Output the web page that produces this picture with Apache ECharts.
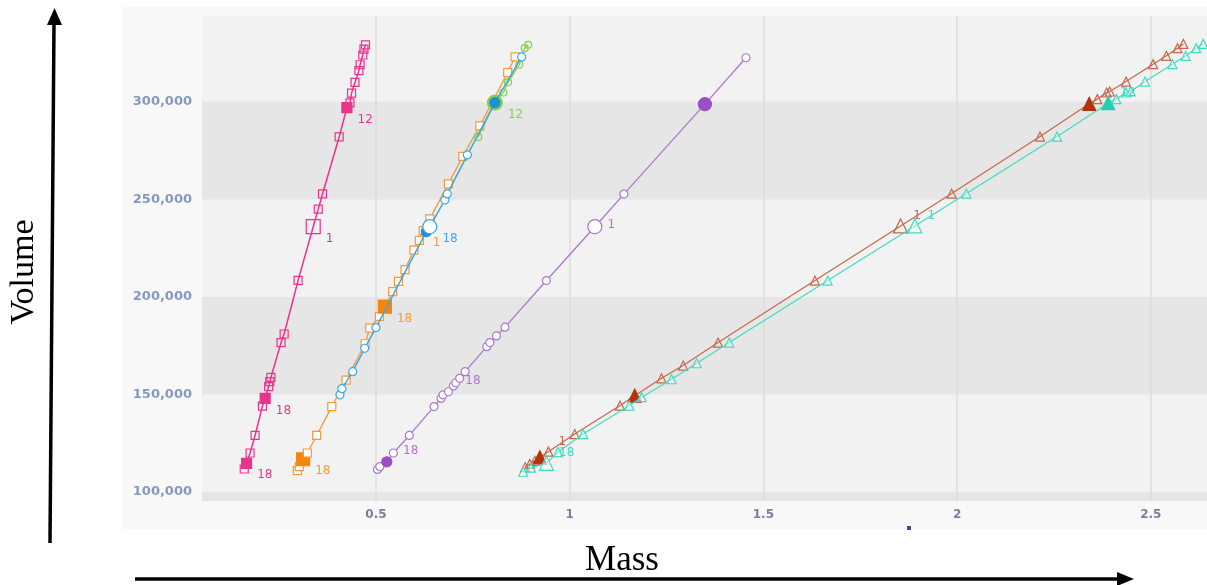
<!DOCTYPE html>
<html>
<head>
<meta charset="utf-8">
<script src="https://cdn.jsdelivr.net/npm/echarts@6/dist/echarts.min.js"></script>
<style>
  html, body { margin: 0; padding: 0; background: #fff; }
  #chart { width: 1207px; height: 585px; }
</style>
</head>
<body>
<div id="chart"></div>
<script>
// tick labels
const xTicks = [0.5, 1, 1.5, 2, 2.5];
const yTicks = [100000, 150000, 200000, 250000, 300000];

// [mass, volume]
const pinkPoints = [[0.160,111800],[0.166,114700],[0.175,120000],[0.188,129000],[0.207,144000],[0.214,148000],[0.223,154000],[0.226,156600],[0.229,158800],[0.255,176600],[0.263,181000],[0.299,208500],[0.338,236000],[0.351,245000],[0.362,252800],[0.405,282000],[0.425,297000],[0.433,299500],[0.437,304500],[0.446,310000],[0.456,316000],[0.459,319000],[0.466,324000],[0.469,327000],[0.473,329200]];
const pinkLabels = [[1,'18'],[5,'18'],[12,'1'],[16,'12']];

const orangePoints = [[0.297,111000],[0.302,113000],[0.312,116800],[0.323,120000],[0.347,129000],[0.386,143800],[0.423,157400],[0.472,176000],[0.484,184000],[0.509,190000],[0.523,195000],[0.543,202700],[0.558,208000],[0.575,214000],[0.598,224000],[0.612,229000],[0.622,234000],[0.639,240000],[0.687,258000],[0.724,272000],[0.768,287700],[0.840,315000],[0.859,323000]];
const orangeLabels = [[2,'18'],[10,'18'],[16,'1']];

const bluePoints = [[0.407,149800],[0.412,153000],[0.440,161700],[0.471,173700],[0.500,184300],[0.630,233500],[0.639,236000],[0.678,249700],[0.684,252800],[0.736,272800],[0.807,299600],[0.876,323000]];
const blueLabels = [[6,'18']];

const greenPoints = [[0.764,282000],[0.807,299600],[0.829,304800],[0.841,310000],[0.870,319000],[0.884,327500],[0.893,329200]];
const greenLabels = [[1,'12']];

const purplePoints = [[0.504,111600],[0.510,113000],[0.528,115500],[0.545,120000],[0.586,129000],[0.650,143800],[0.668,148000],[0.673,149800],[0.687,151400],[0.700,154400],[0.706,156000],[0.716,158300],[0.730,161700],[0.786,174500],[0.794,176600],[0.811,180000],[0.833,184500],[0.940,208400],[1.065,236000],[1.140,252700],[1.349,298800],[1.455,322600]];
const purpleLabels = [[3,'18'],[10,'18'],[18,'1']];

const brownPoints = [[0.885,112700],[0.897,114400],[0.910,116000],[0.923,117800],[0.945,120700],[1.013,129700],[1.130,144300],[1.168,149400],[1.237,158300],[1.293,164800],[1.383,176600],[1.633,208400],[1.854,236400],[1.986,253000],[2.214,282200],[2.341,299000],[2.362,301400],[2.386,304800],[2.394,305300],[2.436,310400],[2.506,319300],[2.540,323600],[2.569,327500],[2.584,329700]];
const brownLabels = [[4,'1'],[12,'1']];

const cyanPoints = [[0.880,110400],[0.900,112500],[0.940,114700],[0.970,120500],[1.035,129700],[1.154,144300],[1.186,148600],[1.263,157800],[1.328,166000],[1.412,176600],[1.666,208400],[1.891,236400],[2.024,253000],[2.258,282200],[2.390,299300],[2.411,301400],[2.436,304800],[2.448,305300],[2.485,310400],[2.556,319300],[2.590,323600],[2.617,327500],[2.635,329700]];
const cyanLabels = [[2,'18'],[11,'1'],[14,'12']];

const xMin = 0.051, xMax = 2.645;
const yMin = 95400, yMax = 344000;

// marker styling per series: which points are drawn big or filled
const seriesDefs = [
  { points: pinkPoints, labels: pinkLabels, color: '#e8348c', symbol: 'rect', size: 8, width: 1.5,
    hollow: 'rgba(0,0,0,0)', marks: { 1: 'fill', 5: 'fill', 12: 'big', 16: 'fill' }, labelDy: 12 },
  { points: orangePoints, labels: orangeLabels, color: '#f39a3c', fill: '#f7850c', symbol: 'rect', size: 8, width: 1.3,
    hollow: '#fff', marks: { 2: 'fillbig', 10: 'fillbig' }, labelDy: 12 },
  { points: greenPoints, labels: greenLabels, color: '#86d04a', symbol: 'circle', size: 7, width: 1.2,
    hollow: 'rgba(0,0,0,0)', marks: { 1: 'ring' }, labelDy: 12 },
  { points: bluePoints, labels: blueLabels, color: '#3ba8e2', fill: '#1f8fd6', symbol: 'circle', size: 8, width: 1.5,
    hollow: '#fff', marks: { 5: 'fill', 6: 'big', 10: 'fill' }, labelDy: 12 },
  { points: purplePoints, labels: purpleLabels, color: '#ac78cc', fill: '#9a4fc4', symbol: 'circle', size: 8, width: 1.3,
    hollow: '#fff', marks: { 2: 'fill', 18: 'big', 20: 'fillbig' }, labelDy: -2 },
  { points: brownPoints, labels: brownLabels, color: '#c4674a', fill: '#b5320c', symbol: 'triangle', size: 9, width: 1.2,
    hollow: 'rgba(0,0,0,0)', marks: { 3: 'fillbig', 7: 'fillbig', 12: 'big', 15: 'fillbig' }, labelDy: -10 },
  { points: cyanPoints, labels: cyanLabels, color: '#3fdcc2', fill: '#22cfae', symbol: 'triangle', size: 9, width: 1.2,
    hollow: 'rgba(255,255,255,0.4)', marks: { 2: 'big', 11: 'big', 14: 'fillbig' }, labelDy: -10 }
];

function makeSeries(d, k) {
  const data = d.points.map((p, i) => {
    const item = { value: p };
    const m = d.marks[i];
    const fc = d.fill || d.color;
    if (m === 'fill') {
      item.symbolSize = d.size + 2;
      item.itemStyle = { color: fc, borderColor: fc };
    } else if (m === 'fillbig') {
      item.symbolSize = 13;
      item.itemStyle = { color: fc, borderColor: fc };
    } else if (m === 'big') {
      item.symbolSize = 14;
    } else if (m === 'ring') {
      item.symbolSize = 13;
      item.itemStyle = { color: 'rgba(134,208,74,0.3)', borderColor: d.color, borderWidth: 3 };
    }
    const lab = d.labels.find(l => l[0] === i);
    if (lab) item.label = { show: true, formatter: lab[1] };
    return item;
  });
  return {
    type: 'line',
    data: data,
    symbol: d.symbol,
    symbolSize: d.size,
    showAllSymbol: true,
    z: 2 + k,
    lineStyle: { color: d.color, width: d.width },
    itemStyle: { color: d.hollow, borderColor: d.color, borderWidth: 1.2 },
    label: {
      show: false, position: 'right', distance: 3, offset: [2, d.labelDy],
      color: d.color, fontSize: 12, fontFamily: 'DejaVu Sans'
    },
    emphasis: { disabled: true },
    animation: false
  };
}

const series = seriesDefs.map(makeSeries);

const option = {
  animation: false,
  grid: {
    left: 202, right: 0, top: 16, bottom: 84,
    show: true, backgroundColor: '#f2f2f2', borderWidth: 0
  },
  xAxis: {
    type: 'value', min: xMin, max: xMax,
    axisLine: { show: false },
    axisTick: { show: false, customValues: xTicks },
    axisLabel: {
      customValues: xTicks, margin: 8,
      color: '#85799f', fontSize: 12, fontWeight: 'bold', fontFamily: 'DejaVu Sans'
    },
    splitLine: { show: true, lineStyle: { color: '#dcdcdc', width: 1.5 } }
  },
  yAxis: {
    type: 'value', min: yMin, max: yMax,
    axisLine: { show: false },
    axisTick: { show: false, customValues: [yMin].concat(yTicks) },
    axisLabel: {
      customValues: yTicks, margin: 10,
      formatter: v => v.toLocaleString('en-US'),
      color: '#8598c0', fontSize: 13, fontWeight: 'bold', fontFamily: 'DejaVu Sans'
    },
    splitLine: { show: false },
    splitArea: { show: true, areaStyle: { color: ['#e6e6e6', '#f2f2f2'] } }
  },
  graphic: [
    { type: 'rect', z: -100, shape: { x: 123, y: 7, width: 1084, height: 522 }, style: { fill: '#f8f8f8' } },
    { type: 'rect', z: 100, shape: { x: 907, y: 526, width: 4, height: 4 }, style: { fill: '#5b3a99' } },
    // vertical arrow + label
    { type: 'line', z: 100, shape: { x1: 50, y1: 543, x2: 54, y2: 22 }, style: { stroke: '#000', lineWidth: 3.5 } },
    { type: 'polygon', z: 100, shape: { points: [[54.5, 8], [47, 25], [62, 25]] }, style: { fill: '#000' } },
    { type: 'text', z: 100, x: 24, y: 272, rotation: Math.PI / 2,
      style: { text: 'Volume', font: '34px "Liberation Serif"', fill: '#000', align: 'center', verticalAlign: 'middle' } },
    // horizontal arrow + label
    { type: 'line', z: 100, shape: { x1: 135, y1: 579, x2: 1120, y2: 579 }, style: { stroke: '#000', lineWidth: 3.5 } },
    { type: 'polygon', z: 100, shape: { points: [[1134, 579], [1117, 572], [1117, 586]] }, style: { fill: '#000' } },
    { type: 'text', z: 100, x: 622, y: 561,
      style: { text: 'Mass', font: '35px "Liberation Serif"', fill: '#000', align: 'center', verticalAlign: 'middle' } }
  ],
  series: series
};

const chart = echarts.init(document.getElementById('chart'));
chart.setOption(option);
window.addEventListener('resize', () => chart.resize());
</script>
</body>
</html>
